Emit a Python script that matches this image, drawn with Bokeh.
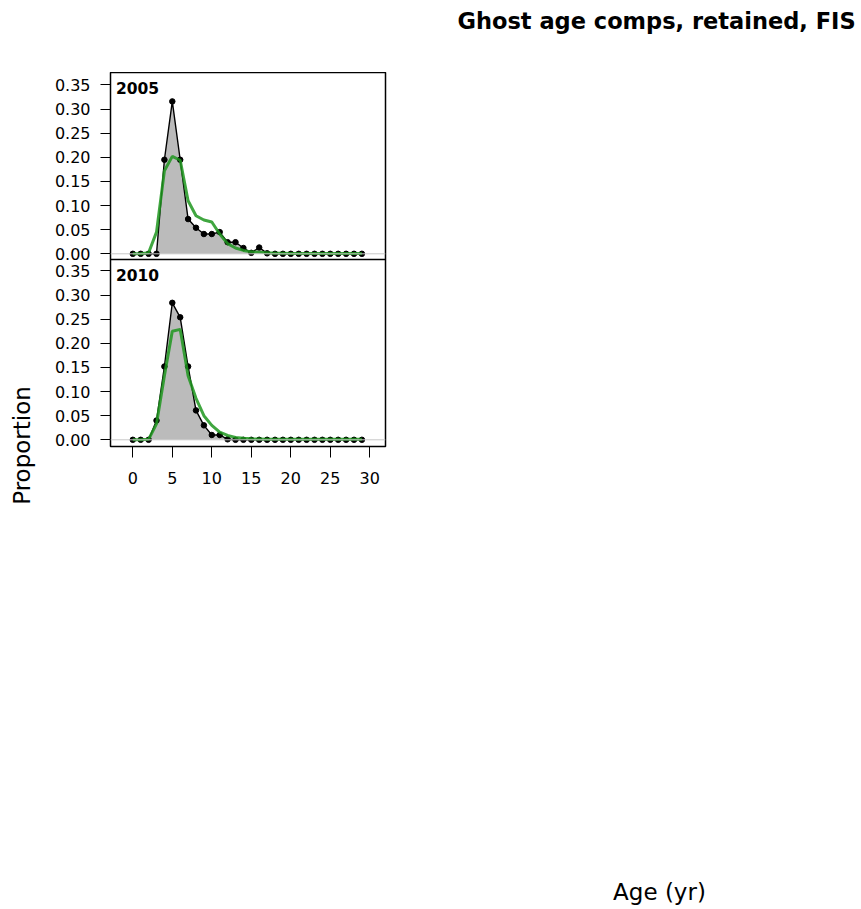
import math
from bokeh.plotting import figure
from bokeh.layouts import column, row
from bokeh.models import Range1d, Span, FixedTicker, ColumnDataSource
from bokeh.core.properties import value
from bokeh.embed import file_html
from bokeh.resources import INLINE

# ---------------- data ----------------
ages = list(range(30))
years = ["2005", "2010"]

obs_2005 = [0, 0, 0, 0, 0.195, 0.316, 0.195, 0.072, 0.054, 0.041, 0.041, 0.045,
            0.024, 0.024, 0.012, 0.002, 0.013, 0.001, 0, 0, 0, 0, 0, 0, 0, 0, 0, 0, 0, 0]
exp_2005 = [0, 0, 0.002, 0.045, 0.172, 0.202, 0.194, 0.110, 0.079, 0.070, 0.066, 0.041,
            0.021, 0.012, 0.007, 0.004, 0.003, 0.002, 0.001, 0.001, 0.0005, 0.0005, 0.0005,
            0.0005, 0.0005, 0.0005, 0.0005, 0.0005, 0.0005, 0.0005]
obs_2010 = [0, 0, 0, 0.040, 0.152, 0.284, 0.254, 0.152, 0.061, 0.030, 0.010, 0.010,
            0.001, 0, 0, 0, 0, 0, 0, 0, 0, 0, 0, 0, 0, 0, 0, 0, 0, 0]
exp_2010 = [0, 0, 0.001, 0.033, 0.133, 0.225, 0.229, 0.133, 0.086, 0.050, 0.030, 0.016,
            0.009, 0.005, 0.003, 0.002, 0.0015, 0.001, 0.001, 0.001, 0.001, 0.001, 0.001,
            0.001, 0.001, 0.001, 0.001, 0.001, 0.001, 0.001]

x_ticks = [0, 5, 10, 15, 20, 25, 30]
y_ticks = [0.0, 0.05, 0.10, 0.15, 0.20, 0.25, 0.30, 0.35]

title_text = "Ghost age comps, retained, FIS"
x_label = "Age (yr)"
y_label = "Proportion"

# ---------------- layout geometry (page pixels) ----------------
W, H = 861, 909
TOP_H = 72                       # title strip height
YLAB_W = 48                      # left strip for "Proportion"
FRAME_L, FRAME_R = 110, 385      # panel frame, page x
FRAME_T, FRAME_B = 72, 446       # both panels together, page y
MID_B = 520                      # bottom of the middle band (page y)
ZERO1, ZERO2 = 253.3, 439.3      # page y of 0 in panel 1 / panel 2
YS = 482.3                       # px per proportion unit
SPLIT = 259                      # page y of the border between the panels
X0_PX, XS = 132.3, 7.9           # page x of age 0, px per year

FONT = "DejaVu Sans"
GREEN = "#1E961E"
FILL = "#BBBBBB"


def blank(width, height):
    f = figure(width=width, height=height, output_backend="svg", toolbar_location=None,
               x_axis_location=None, y_axis_location=None, min_border=0,
               x_range=Range1d(0, width), y_range=Range1d(0, height))
    f.grid.visible = False
    f.outline_line_color = None
    f.background_fill_color = "white"
    f.border_fill_color = "white"
    return f


# ---- title strip (page y 0..72) ----
title_fig = blank(W, TOP_H)
title_fig.text(x=[457], y=[TOP_H - 20.5], text=[title_text], text_font=value(FONT),
               text_font_style="bold", text_font_size="22.5px", text_color="black",
               text_baseline="alphabetic", text_align="left")

# ---- middle band (page y 72..520) ----
mid_h = MID_B - TOP_H
ylab_fig = blank(YLAB_W, mid_h)
ylab_fig.text(x=[21], y=[MID_B - 445], text=[y_label], angle=math.pi / 2,
              text_font=value(FONT), text_font_size="23px", text_color="black",
              text_baseline="alphabetic", text_align="center")

pw = W - YLAB_W
x_rng = Range1d((FRAME_L - X0_PX) / XS, (FRAME_R - X0_PX) / XS)
y1_rng = Range1d((ZERO1 - FRAME_B) / YS, (ZERO1 - FRAME_T) / YS)
y2_rng = Range1d((ZERO2 - FRAME_B) / YS, (ZERO2 - FRAME_T) / YS)

p = figure(width=pw, height=mid_h, output_backend="svg", toolbar_location=None,
           x_range=x_rng, y_range=y1_rng,
           min_border_left=FRAME_L - YLAB_W, min_border_right=W - FRAME_R,
           min_border_top=FRAME_T - TOP_H, min_border_bottom=MID_B - FRAME_B)
p.extra_y_ranges = {"p2": y2_rng}
p.grid.visible = False
p.outline_line_color = "black"
p.outline_line_width = 1.5
p.background_fill_color = "white"
p.border_fill_color = "white"

# one left axis carrying the ticks of both panels
shift = (ZERO2 - ZERO1) / YS
ticks_all = [t for t in y_ticks] + [t - shift for t in y_ticks]
overrides = {}
for t in y_ticks:
    overrides[t] = f"{t:.2f}"
    overrides[t - shift] = f"{t:.2f}"
ya = p.yaxis[0]
ya.ticker = FixedTicker(ticks=ticks_all)
ya.major_label_overrides = overrides
ya.axis_line_color = None
ya.major_tick_in = 0
ya.major_tick_out = 10
ya.minor_tick_line_color = None
ya.major_tick_line_color = "black"
ya.major_label_standoff = 10
ya.major_label_text_font = FONT
ya.major_label_text_font_size = "16px"
ya.major_label_text_color = "black"

xa = p.xaxis[0]
xa.ticker = FixedTicker(ticks=x_ticks)
xa.axis_line_color = None
xa.major_tick_in = 0
xa.major_tick_out = 11
xa.minor_tick_line_color = None
xa.major_tick_line_color = "black"
xa.major_label_standoff = 14
xa.major_label_text_font = FONT
xa.major_label_text_font_size = "16px"
xa.major_label_text_color = "black"

panels = [
    (obs_2005, exp_2005, years[0], "default", ZERO1, FRAME_T),
    (obs_2010, exp_2010, years[1], "p2", ZERO2, SPLIT),
]
for obs, exp, year, rname, zero, top in panels:
    src = ColumnDataSource(dict(age=ages, obs=obs, exp=exp))
    p.varea(x="age", y1=0, y2="obs", source=src, fill_color=FILL, y_range_name=rname)
    p.add_layout(Span(location=0, dimension="width", line_color="#C8C8C8",
                      line_width=1, y_range_name=rname))
    p.line(x="age", y="obs", source=src, line_color="black", line_width=1.4,
           y_range_name=rname)
    p.scatter(x="age", y="obs", source=src, size=5.5, fill_color="black",
              line_color="black", y_range_name=rname)
    p.line(x="age", y="exp", source=src, line_color=GREEN, line_width=3,
           line_alpha=0.85, y_range_name=rname)
    p.text(x=[(115.5 - X0_PX) / XS], y=[(zero - (top + 15)) / YS], text=[year],
           text_font=value(FONT), text_font_style="bold", text_font_size="15.5px",
           text_color="black", text_baseline="alphabetic", text_align="left",
           y_range_name=rname)

# border between the two panels
p.add_layout(Span(location=(ZERO1 - SPLIT) / YS, dimension="width",
                  line_color="black", line_width=1.5))

# ---- bottom strip (page y 520..909) ----
bot_h = H - MID_B
xlab_fig = blank(W, bot_h)
xlab_fig.text(x=[659], y=[H - 891], text=[x_label],
              text_font=value(FONT), text_font_size="23px", text_color="black",
              text_baseline="alphabetic", text_align="center")

# single-child columns keep the two plots of the middle band from aligning frames
middle = row(column(ylab_fig, spacing=0), column(p, spacing=0), spacing=0)
layout = column(title_fig, middle, xlab_fig, spacing=0)
open("out.html", "w").write(file_html(layout, INLINE))
